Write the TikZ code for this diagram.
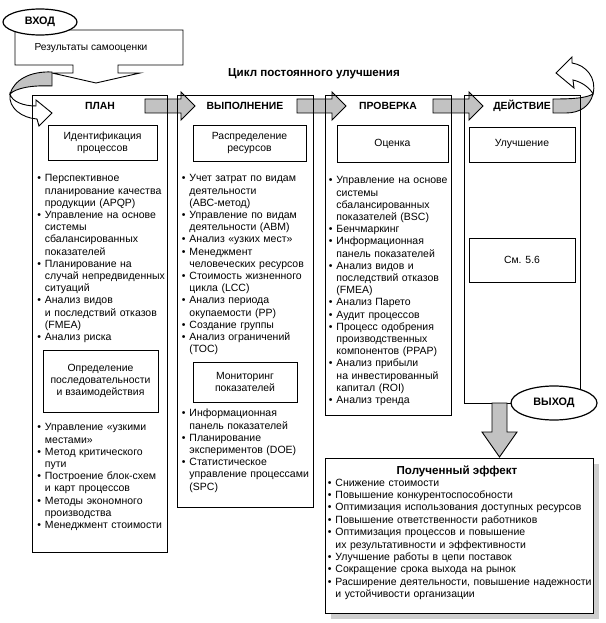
\documentclass[tikz,border=0pt]{standalone}
\usepackage{fontspec}
\setmainfont{Liberation Sans}
\usetikzlibrary{shapes.geometric}
\setlength\parindent{0pt}
\newcommand\bi{\strut\makebox[7.5pt][l]{•}}
\newcommand\cn{\strut\hspace*{7.5pt}}
\definecolor{ag}{gray}{0.76}
\begin{document}
\begin{tikzpicture}[x=1pt,y=-1pt,line width=0.9pt,
  col/.style={draw,inner sep=0pt,anchor=north west},
  ibox/.style={draw,fill=white,inner sep=0pt,align=center,font=\fontsize{10.4}{12.2}\selectfont},
  lst/.style={anchor=north west,inner sep=0pt,text width=160pt,align=left,font=\fontsize{10.5}{12.2}\selectfont},
  hdr/.style={anchor=base,inner sep=0pt,font=\bfseries\fontsize{10.4}{12}\selectfont},
  oval/.style={ellipse,draw,fill=white,line width=1.2pt,inner sep=0pt,font=\bfseries\fontsize{10.8}{12}\selectfont},
  garrow/.style={draw,fill=ag,line width=0.9pt}]
\useasboundingbox (0,0) rectangle (605,623);

% input box with down arrow
\draw[fill=white] (15,30) -- (183,30) -- (183,65) -- (118,65) -- (118,73) -- (140,73) -- (96,83) -- (52,73) -- (73,73) -- (73,65) -- (15,65) -- cycle;
\node[inner sep=0pt,font=\fontsize{10.2}{12}\selectfont] (res) at (91,48) {Результаты самооценки};
\node[oval,minimum width=74pt,minimum height=26pt] (in) at (40,22) {ВХОД};

% title
\node[anchor=base,inner sep=0pt,font=\bfseries\fontsize{11.6}{13}\selectfont] (title) at (314,77) {Цикл постоянного улучшения};

% left curved arrow
\draw[fill=ag] (52,72) .. controls (30,71) and (14,80) .. (10,94) .. controls (16,88) and (32,85) .. (52,86) -- cycle;
\draw[fill=white] (10,94) .. controls (8,108) and (22,118) .. (37,119) -- (39,126) -- (52,113) -- (36,100) -- (36,106) .. controls (24,106) and (12,102) .. (10,94) -- cycle;

% horizontal arrows
\draw[garrow] (145,99) -- (181,99) -- (181,92) -- (195,106) -- (181,120) -- (181,113) -- (145,113) -- cycle;
\draw[garrow] (297,99) -- (332,99) -- (332,92) -- (346,106) -- (332,120) -- (332,113) -- (297,113) -- cycle;
\draw[garrow] (433,99) -- (469,99) -- (469,92) -- (483,106) -- (469,120) -- (469,113) -- (433,113) -- cycle;

% right curved arrow
\draw[fill=ag] (553,99) -- (553,113) -- (566,113) .. controls (580,113) and (590,106) .. (593,94) .. controls (586,98) and (574,99) .. (553,99) -- cycle;
\draw[fill=white] (593,94) .. controls (597,78) and (586,65) .. (572,63) -- (572,57) -- (556,73) -- (574,88) -- (573,80) .. controls (582,82) and (590,88) .. (593,94) -- cycle;

% columns
\node[col,minimum width=135pt,minimum height=457pt] (plan) at (32,95) {};
\node[col,minimum width=136pt,minimum height=412pt] (do) at (177,95) {};
\node[col,minimum width=126pt,minimum height=320pt] (check) at (325,95) {};
\node[col,minimum width=116pt,minimum height=308pt] (act) at (464,95) {};

% headers
\node[hdr] (hplan) at (100,110) {ПЛАН};
\node[hdr] (hdo) at (245,110) {ВЫПОЛНЕНИЕ};
\node[hdr] (hcheck) at (388,110) {ПРОВЕРКА};
\node[hdr] (hact) at (522,110) {ДЕЙСТВИЕ};

% PLAN column
\node[ibox,minimum width=109pt,minimum height=35pt] (ident) at (102.5,142.5) {Идентификация\\процессов};
\node[lst] (l1) at (37,173) {\bi Перспективное\\ \cn планирование качества\\ \cn продукции (APQP)\\
\bi Управление на основе\\ \cn системы\\ \cn сбалансированных\\ \cn показателей\\
\bi Планирование на\\ \cn случай непредвиденных\\ \cn ситуаций\\
\bi Анализ видов\\ \cn и последствий отказов\\ \cn (FMEA)\\
\bi Анализ риска};
\node[ibox,minimum width=115pt,minimum height=62pt] (seq) at (100.5,381) {Определение\\последовательности\\и взаимодействия};
\node[lst] (l2) at (37,422) {\bi Управление «узкими\\ \cn местами»\\
\bi Метод критического\\ \cn пути\\
\bi Построение блок-схем\\ \cn и карт процессов\\
\bi Методы экономного\\ \cn производства\\
\bi Менеджмент стоимости};

% DO column
\node[ibox,minimum width=113pt,minimum height=36pt] (res2) at (249.5,143) {Распределение\\ресурсов};
\node[lst] (l3) at (181.5,173) {\bi Учет затрат по видам\\ \cn деятельности\\ \cn (АВС-метод)\\
\bi Управление по видам\\ \cn деятельности (АВМ)\\
\bi Анализ «узких мест»\\
\bi Менеджмент\\ \cn человеческих ресурсов\\
\bi Стоимость жизненного\\ \cn цикла (LCC)\\
\bi Анализ периода\\ \cn окупаемости (РР)\\
\bi Создание группы\\
\bi Анализ ограничений\\ \cn (ТОС)};
\node[ibox,minimum width=104pt,minimum height=40pt] (mon) at (245,382) {Мониторинг\\показателей};
\node[lst] (l4) at (181.5,408) {\bi Информационная\\ \cn панель показателей\\
\bi Планирование\\ \cn экспериментов (DOE)\\
\bi Статистическое\\ \cn управление процессами\\ \cn (SPC)};

% CHECK column
\node[ibox,minimum width=111pt,minimum height=37pt] (eval) at (392.5,143.5) {Оценка};
\node[lst] (l5) at (328.5,175) {\bi Управление на основе\\ \cn системы\\ \cn сбалансированных\\ \cn показателей (BSC)\\
\bi Бенчмаркинг\\
\bi Информационная\\ \cn панель показателей\\
\bi Анализ видов и\\ \cn последствий отказов\\ \cn (FMEA)\\
\bi Анализ Парето\\
\bi Аудит процессов\\
\bi Процесс одобрения\\ \cn производственных\\ \cn компонентов (PPAP)\\
\bi Анализ прибыли\\ \cn на инвестированный\\ \cn капитал (ROI)\\
\bi Анализ тренда};

% ACT column
\node[ibox,minimum width=106pt,minimum height=35pt] (impr) at (522,144.5) {Улучшение};
\node[ibox,minimum width=106pt,minimum height=44pt] (see) at (522,260) {См. 5.6};

% output arrow and effect box
\draw[garrow] (492,403) -- (507,403) -- (507,432) -- (517,432) -- (499.5,457) -- (482,432) -- (492,432) -- cycle;
\node[oval,minimum width=86pt,minimum height=34pt] (out) at (554,403) {ВЫХОД};
\fill[ag!80] (331,464) rectangle (599,619);
\node[col,fill=white,minimum width=268pt,minimum height=155pt] (eff) at (325,458) {};
\node[anchor=base,inner sep=0pt,font=\bfseries\fontsize{11.6}{13}\selectfont] (efft) at (457,474) {Полученный эффект};
\node[lst,text width=270pt,font=\fontsize{10.5}{12.4}\selectfont] (l6) at (327.5,477) {\bi Снижение стоимости\\
\bi Повышение конкурентоспособности\\
\bi Оптимизация использования доступных ресурсов\\
\bi Повышение ответственности работников\\
\bi Оптимизация процессов и повышение\\ \cn их результативности и эффективности\\
\bi Улучшение работы в цепи поставок\\
\bi Сокращение срока выхода на рынок\\
\bi Расширение деятельности, повышение надежности\\ \cn и устойчивости организации};
\end{tikzpicture}
\end{document}
